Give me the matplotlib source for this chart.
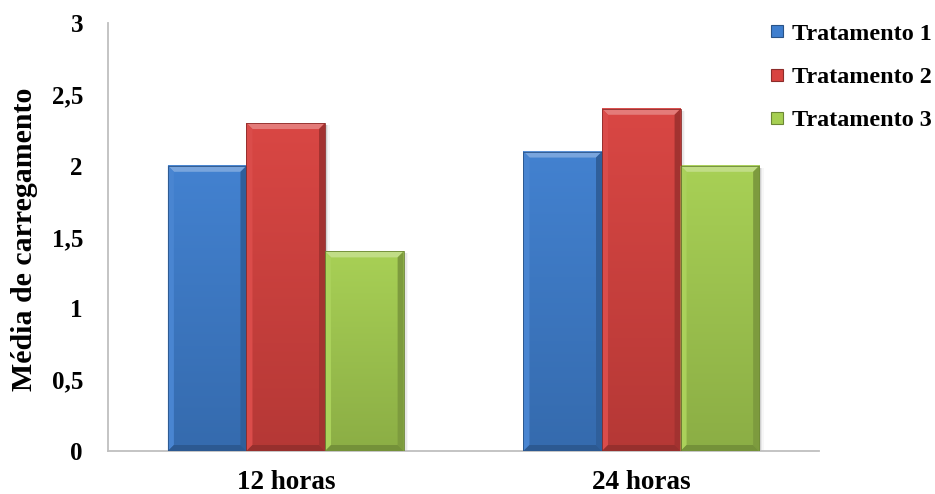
import numpy as np
import matplotlib.pyplot as plt
from matplotlib.patches import Polygon, Rectangle
from matplotlib.colors import to_rgb
from matplotlib.lines import Line2D

categories = ["12 horas", "24 horas"]
series_names = ["Tratamento 1", "Tratamento 2", "Tratamento 3"]
tratamento_1 = [2.0, 2.1]
tratamento_2 = [2.3, 2.4]
tratamento_3 = [1.4, 2.0]
y_ticks = [0, 0.5, 1, 1.5, 2, 2.5, 3]
y_tick_labels = ["0", "0,5", "1", "1,5", "2", "2,5", "3"]

colors = ["#3f7fcf", "#d84340", "#a6cf52"]
values = [tratamento_1, tratamento_2, tratamento_3]

plt.rcParams["font.family"] = ["Liberation Serif", "DejaVu Serif"]
plt.rcParams["font.weight"] = "bold"

fig = plt.figure(figsize=(9.35, 4.94), dpi=100)
ax = fig.add_axes([0.1155, 0.087, 0.7605, 0.866])
ax.set_xlim(-0.5, 1.5)
ax.set_ylim(0, 3)

bar_w = 0.221
x = np.arange(len(categories))


def shade(c, f):
    r = np.array(to_rgb(c))
    if f >= 0:
        return tuple(r + (1 - r) * f)
    return tuple(r * (1 + f))


# pixel sizes in data units
px_x = 2.0 / 711
px_y = 3.0 / 428
bev_x = 6 * px_x
bev_y = 6 * px_y


def bevel_bar(xc, h, c):
    x0, x1 = xc - bar_w / 2, xc + bar_w / 2
    # soft shadow on the right
    for k, a in enumerate([0.10, 0.06, 0.03]):
        ax.add_patch(Rectangle((x1, 0), (k + 1) * 1.5 * px_x, h - 2 * px_y,
                               color="k", alpha=a, lw=0, zorder=2))
    # vertical gradient body
    top = np.array(shade(c, 0.02))
    bot = np.array(shade(c, -0.16))
    t = np.linspace(0, 1, 64)[:, None]
    grad = (bot * (1 - t) + top * t)[:, None, :]
    ax.imshow(grad, extent=(x0, x1, 0, h), origin="lower", aspect="auto",
              zorder=3, interpolation="bilinear")
    # bevel facets
    facets = [
        ([(x0, h), (x1, h), (x1 - bev_x, h - bev_y), (x0 + bev_x, h - bev_y)], shade(c, 0.30)),
        ([(x0, 0), (x0, h), (x0 + bev_x, h - bev_y), (x0 + bev_x, bev_y)], shade(c, 0.05)),
        ([(x1, 0), (x1, h), (x1 - bev_x, h - bev_y), (x1 - bev_x, bev_y)], shade(c, -0.25)),
        ([(x0, 0), (x1, 0), (x1 - bev_x, bev_y), (x0 + bev_x, bev_y)], shade(c, -0.30)),
    ]
    for pts, fc in facets:
        ax.add_patch(Polygon(pts, closed=True, fc=fc, ec="none", zorder=4))
    ax.add_patch(Rectangle((x0, 0), bar_w, h, fill=False,
                           ec=shade(c, -0.35), lw=0.6, zorder=5))


for i, (vals, c) in enumerate(zip(values, colors)):
    for xc, v in zip(x + (i - 1) * bar_w, vals):
        bevel_bar(xc, v, c)

for s in ["top", "right"]:
    ax.spines[s].set_visible(False)
for s in ["left", "bottom"]:
    ax.spines[s].set_color("#bfbfbf")
    ax.spines[s].set_linewidth(1.3)

ax.set_yticks(y_ticks)
ax.set_yticklabels(y_tick_labels, fontsize=18, fontweight="bold")
ax.set_xticks(x)
ax.set_xticklabels(categories, fontsize=19.5, fontweight="bold")
ax.tick_params(axis="both", length=0)
ax.tick_params(axis="y", pad=18)
ax.tick_params(axis="x", pad=14)
ax.set_ylabel("Média de carregamento", fontsize=21.5, fontweight="bold")
ax.yaxis.set_label_coords(-0.099, 0.495)

handles = [Line2D([], [], marker="s", ls="none", markersize=8.5,
                  markerfacecolor=c, markeredgecolor=shade(c, -0.35), markeredgewidth=0.8)
           for c in colors]
fig.legend(handles, series_names, loc="upper left", bbox_to_anchor=(0.81, 0.978),
           frameon=False, prop={"size": 17.4, "weight": "bold"},
           labelspacing=0.88, handlelength=0.6, handletextpad=0.35, borderpad=0)

fig.savefig("out.png", dpi=100)
